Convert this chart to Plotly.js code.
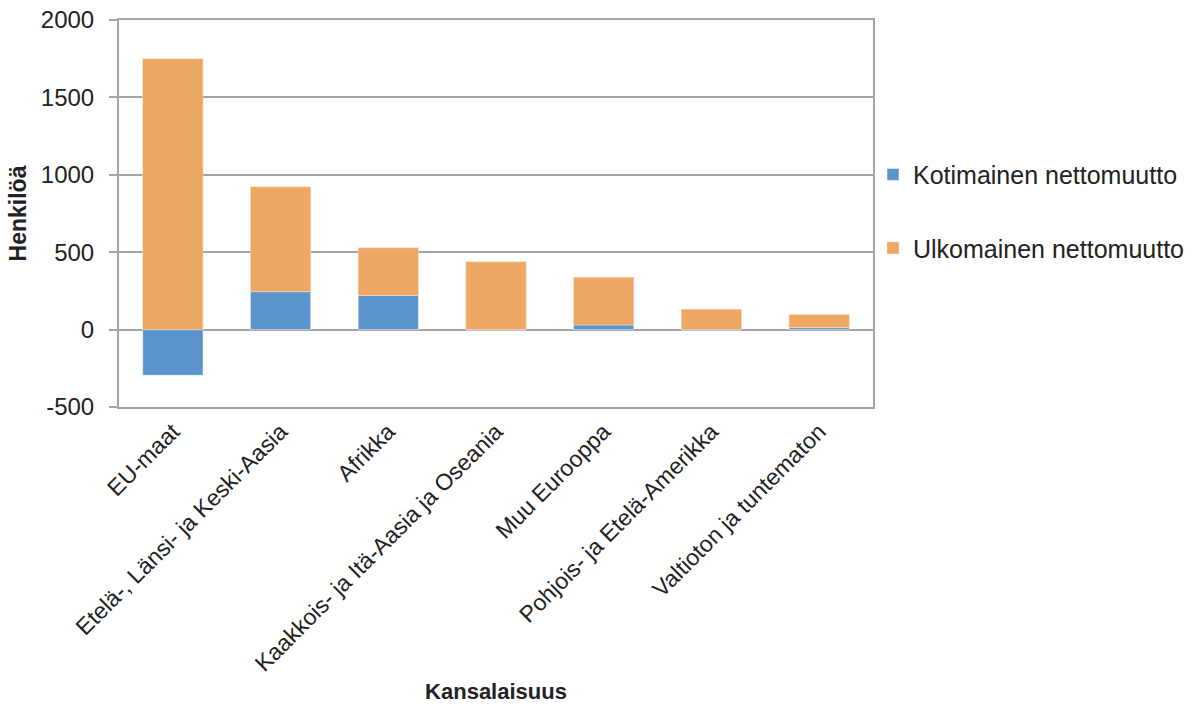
<!DOCTYPE html>
<html><head><meta charset="utf-8">
<script src="https://cdn.plot.ly/plotly-3.0.1.min.js"></script>
<style>html,body{margin:0;padding:0;background:#fff}#c{width:1201px;height:711px}</style>
</head><body><div id="c"></div>
<script>
var categories = ["EU-maat","Etelä-, Länsi- ja Keski-Aasia","Afrikka","Kaakkois- ja Itä-Aasia ja Oseania","Muu Eurooppa","Pohjois- ja Etelä-Amerikka","Valtioton ja tuntematon"];
var kotimainen = [-295, 245, 220, -3, 30, -4, 13];
var ulkomainen = [1750, 677, 309, 438, 308, 132, 85];
var seriesNames = ["Kotimainen nettomuutto","Ulkomainen nettomuutto"];
var yTicks = [-500, 0, 500, 1000, 1500, 2000];

var font = "Liberation Sans, Arial, sans-serif";
var data = [
  {type:"bar", x:categories, y:kotimainen, name:seriesNames[0], legendgroup:"a",
   marker:{color:"#5b94cd", line:{color:"#ffffff", width:0.5}}},
  {type:"bar", x:categories, y:ulkomainen, name:seriesNames[1], legendgroup:"b",
   marker:{color:"#eda762", line:{color:"#fbe3cc", width:0.5}}}
];
var layout = {
  width:1201, height:711,
  margin:{l:119, r:326, t:20, b:304},
  barmode:"relative", bargap:0.44,
  paper_bgcolor:"#fff", plot_bgcolor:"#fff",
  font:{family:font, color:"#222", size:22},
  showlegend:true,
  legend:{x:1.0, xanchor:"left", y:0.506, yanchor:"middle", traceorder:"grouped",
          tracegroupgap:38, font:{size:25, color:"#222"}, bgcolor:"rgba(0,0,0,0)"},
  xaxis:{type:"category", tickangle:-45, tickfont:{size:23, color:"#222"},
         showline:true, linecolor:"#a4a4a6", linewidth:2, mirror:true, ticks:"",
         title:{text:"<b>Kansalaisuus</b>", font:{size:22, color:"#222"}, standoff:8}},
  yaxis:{range:[-500,2000], tickvals:yTicks, ticktext:yTicks.map(String),
         showgrid:true, gridcolor:"#a4a4a6", gridwidth:2,
         zeroline:true, zerolinecolor:"#a4a4a6", zerolinewidth:2,
         showline:true, linecolor:"#a4a4a6", linewidth:2, mirror:true,
         ticks:"outside", ticklen:8, tickcolor:"#a4a4a6", tickwidth:2,
         ticklabelstandoff:10,
         tickfont:{size:24, color:"#222"},
         title:{text:"<b>Henkilöä</b>", font:{size:23, color:"#222"}, standoff:8}}
};
Plotly.newPlot("c", data, layout, {displayModeBar:false, staticPlot:true});
</script></body></html>
